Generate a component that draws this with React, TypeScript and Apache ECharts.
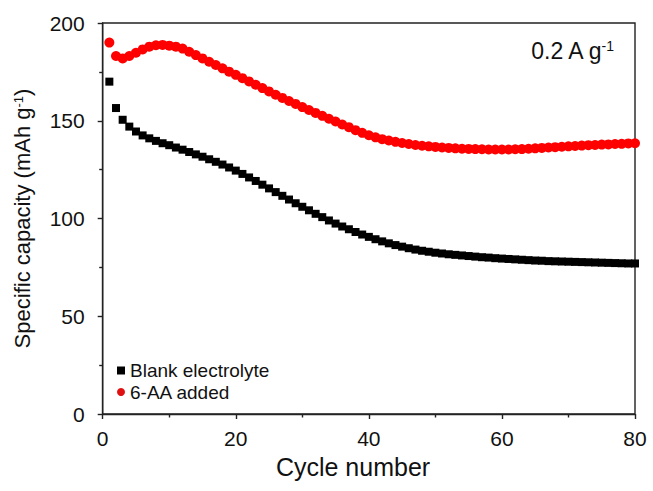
import React, { useEffect, useRef } from "react";
import * as echarts from "echarts";

// Cycle index 1..80
const cycles: number[] = Array.from({ length: 80 }, (_, i) => i + 1);

// Specific capacity (mAh g-1), blank electrolyte
const blankCapacity: number[] = [
  170, 156.5, 150.5, 147, 144.5, 142.5, 141, 139.7, 138.5, 137.5,
  136.3, 135.2, 134, 132.8, 131.6, 130.3, 129, 127.6, 126.1, 124.5,
  122.8, 121, 119.2, 117.3, 115.4, 113.5, 111.6, 109.7, 107.8, 106,
  104.2, 102.4, 100.7, 99, 97.4, 95.9, 94.5, 93.1, 91.8, 90.6,
  89.4, 88.3, 87.3, 86.4, 85.6, 84.8, 84.1, 83.5, 83, 82.5,
  82.1, 81.7, 81.4, 81.1, 80.8, 80.5, 80.2, 80, 79.7, 79.5,
  79.3, 79.1, 78.9, 78.7, 78.5, 78.4, 78.2, 78.1, 78, 77.9,
  77.8, 77.7, 77.6, 77.5, 77.4, 77.3, 77.2, 77.1, 77, 77,
];

// Specific capacity (mAh g-1), with 6-AA additive
const additiveCapacity: number[] = [
  190, 183.1, 181.9, 183.1, 184.8, 186.5, 187.9, 188.6, 188.8, 188.4,
  187.9, 186.9, 185.3, 183.6, 181.9, 180.2, 178.5, 176.8, 175.1, 173.5,
  171.8, 170.1, 168.4, 166.7, 165, 163.3, 161.7, 160.1, 158.6, 157,
  155.5, 154, 152.5, 151, 149.6, 148.1, 146.7, 145.2, 143.8, 142.6,
  141.5, 140.6, 139.9, 139.2, 138.6, 138.1, 137.6, 137.2, 136.9, 136.6,
  136.3, 136.1, 135.9, 135.7, 135.6, 135.5, 135.4, 135.3, 135.3, 135.3,
  135.3, 135.4, 135.5, 135.7, 135.9, 136.1, 136.3, 136.5, 136.7, 136.9,
  137.1, 137.3, 137.5, 137.6, 137.8, 137.9, 138.1, 138.2, 138.4, 138.5,
];

const seriesNames = ["Blank electrolyte", "6-AA added"];

const FONT = "'Liberation Sans', Arial, Helvetica, sans-serif";
const AXIS_COLOR = "#222";
const TEXT_COLOR = "#111";

export default function App() {
  const ref = useRef<HTMLDivElement>(null);

  useEffect(() => {
    if (!ref.current) return;
    const chart = echarts.init(ref.current, undefined, { renderer: "svg" });

    const axisCommon = {
      axisLine: { show: true, onZero: false, lineStyle: { color: AXIS_COLOR, width: 1.4 } },
      axisTick: { show: true, inside: false, length: 5, lineStyle: { color: AXIS_COLOR, width: 1.4 } },
      minorTick: { show: true, splitNumber: 2, length: 3.5, lineStyle: { color: AXIS_COLOR, width: 1.4 } },
      splitLine: { show: false },
      axisLabel: { color: TEXT_COLOR, fontSize: 21, fontFamily: FONT },
    };

    chart.setOption({
      animation: false,
      backgroundColor: "#fff",
      grid: {
        left: 102.7,
        right: 18,
        top: 23,
        bottom: 77,
        show: true,
        borderColor: AXIS_COLOR,
        borderWidth: 1.4,
        backgroundColor: "transparent",
      },
      xAxis: {
        type: "value",
        min: 0,
        max: 80,
        interval: 20,
        ...axisCommon,
        axisLabel: { ...axisCommon.axisLabel, margin: 14 },
      },
      yAxis: {
        type: "value",
        min: 0,
        max: 200,
        interval: 50,
        name: "{t|Specific capacity (mAh g}{sup|-1}{t|)}",
        nameLocation: "middle",
        nameGap: 69,
        ...axisCommon,
        axisLabel: { ...axisCommon.axisLabel, margin: 18 },
        nameTextStyle: {
          color: TEXT_COLOR,
          fontFamily: FONT,
          fontSize: 22,
          rich: {
            t: { fontSize: 22, fontFamily: FONT, color: TEXT_COLOR },
            sup: { fontSize: 13, fontFamily: FONT, color: TEXT_COLOR, padding: [0, 0, 9, 0] },
          },
        },
      },
      legend: {
        orient: "vertical",
        left: 117,
        top: 361,
        itemWidth: 8,
        itemHeight: 8,
        itemGap: 2.5,
        padding: 0,
        textStyle: { fontSize: 19, fontFamily: FONT, color: TEXT_COLOR, lineHeight: 19 },
        data: [
          { name: seriesNames[0], icon: "rect", itemStyle: { color: "#000" } },
          { name: seriesNames[1], icon: "circle", itemStyle: { color: "#e01010" } },
        ],
      },
      graphic: [
        {
          type: "text",
          x: 353,
          y: 467,
          style: {
            text: "Cycle number",
            fontSize: 25,
            fontFamily: FONT,
            fill: TEXT_COLOR,
            align: "center",
            verticalAlign: "middle",
          },
        },
        {
          type: "text",
          x: 614,
          y: 51,
          style: {
            text: "{a|0.2 A g}{s|-1}",
            align: "right",
            verticalAlign: "middle",
            rich: {
              a: { fontSize: 23, fontFamily: FONT, fill: TEXT_COLOR },
              s: { fontSize: 14, fontFamily: FONT, fill: TEXT_COLOR, padding: [0, 0, 10, 0] },
            },
          },
        },
      ],
      series: [
        {
          name: seriesNames[0],
          type: "scatter",
          symbol: "rect",
          symbolSize: 8,
          itemStyle: { color: "#000", opacity: 1 },
          data: cycles.map((c, i) => [c, blankCapacity[i]]),
        },
        {
          name: seriesNames[1],
          type: "scatter",
          symbol: "circle",
          symbolSize: 10,
          itemStyle: { color: "#ff0000", opacity: 1 },
          data: cycles.map((c, i) => [c, additiveCapacity[i]]),
        },
      ],
    });

    return () => chart.dispose();
  }, []);

  return (
    <div
      ref={ref}
      style={{ position: "fixed", left: 0, top: 0, width: 653, height: 491 }}
    />
  );
}
